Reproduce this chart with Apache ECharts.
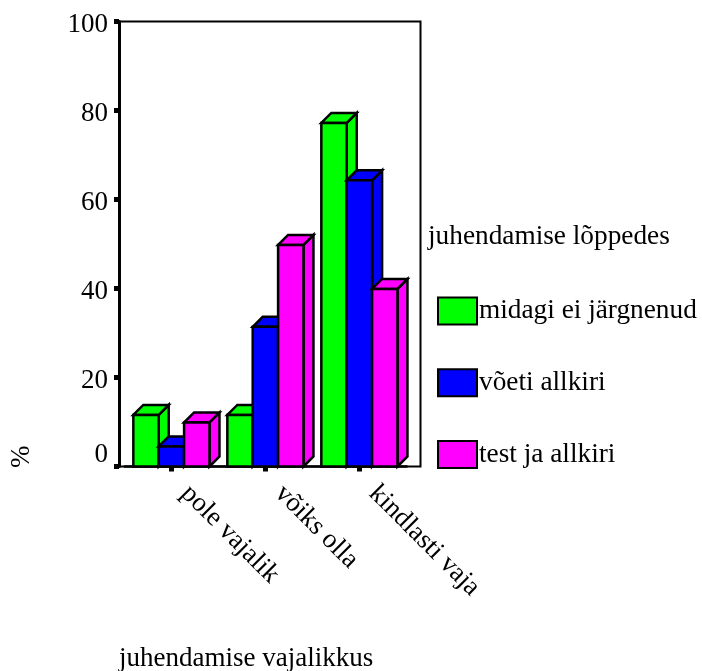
<!DOCTYPE html>
<html><head><meta charset="utf-8">
<style>html,body{margin:0;padding:0;background:#fff}#c{width:702px;height:671px}</style>
<script src="https://cdn.jsdelivr.net/npm/echarts@6/dist/echarts.min.js"></script>
</head><body><div id="c"></div>
<script>
const categories = ['pole vajalik', 'võiks olla', 'kindlasti vaja'];
const seriesNames = ['midagi ei järgnenud', 'võeti allkiri', 'test ja allkiri'];
const midagi = [11.6, 11.6, 77.2];
const voeti = [4.5, 31.4, 64.3];
const test = [9.9, 49.8, 39.9];
const yTicks = [0, 100];
const colors = ['#00ff00', '#0000ff', '#ff00ff'];
const FONT = '"Liberation Serif"';
const SIZE = 27;
const LEGEND_SIZE = 27.3;
const DEPTH = 10;

function renderBar(params, api) {
  const w = api.size([1, 0])[0] * 0.27;
  const base = api.coord([api.value(0), 0]);
  const top = api.coord([api.value(0), api.value(1)]);
  const x0 = base[0] + (params.seriesIndex - 1.5) * w - 0.3;
  const x1 = x0 + w;
  const y0 = base[1];
  const y1 = top[1];
  const style = { fill: colors[params.seriesIndex], stroke: '#000', lineWidth: 2.5, lineJoin: 'miter' };
  return {
    type: 'group',
    children: [
      { type: 'polygon', shape: { points: [[x1, y0], [x1 + DEPTH, y0 - DEPTH], [x1 + DEPTH, y1 - DEPTH], [x1, y1]] }, style },
      { type: 'polygon', shape: { points: [[x0, y1], [x0 + DEPTH, y1 - DEPTH], [x1 + DEPTH, y1 - DEPTH], [x1, y1]] }, style },
      { type: 'rect', shape: { x: x0, y: y1, width: w, height: y0 - y1 }, style }
    ]
  };
}

const makeSeries = (name, vals) => ({
  type: 'custom', name, renderItem: renderBar, clip: false,
  data: vals.map((v, i) => [i, v]),
  encode: { x: 0, y: 1 },
  itemStyle: { color: colors[seriesNames.indexOf(name)], borderColor: '#000', borderWidth: 2.5 }
});

const chart = echarts.init(document.getElementById('c'), null, { renderer: 'canvas' });
chart.setOption({
  animation: false,
  backgroundColor: '#fff',
  textStyle: { fontFamily: FONT },
  grid: { left: 124.7, top: 21.5, width: 282, height: 445, containLabel: false },
  xAxis: {
    type: 'category', data: categories,
    axisLine: { lineStyle: { color: '#000', width: 2.5 } },
    axisTick: { show: true, alignWithLabel: true, length: 5, lineStyle: { color: '#000', width: 5 } },
    axisLabel: { interval: 0, rotate: -45, margin: 9.5, padding: [0, 0, 0, 19], color: '#000', fontFamily: FONT, fontSize: SIZE }
  },
  yAxis: {
    type: 'value', min: yTicks[0], max: yTicks[1], interval: 20, offset: 5.7,
    splitLine: { show: false },
    axisLine: { show: true, lineStyle: { color: '#000', width: 3 } },
    axisTick: { show: true, length: 5, lineStyle: { color: '#000', width: 5 } },
    axisLabel: { margin: 11, verticalAlign: 'top', padding: [-10, 0, -2, 0], verticalAlignMinLabel: 'bottom', color: '#000', fontFamily: FONT, fontSize: SIZE }
  },
  legend: {
    orient: 'vertical', left: 432, top: 291.5, itemWidth: 39, itemHeight: 27, itemGap: 42.7,
    icon: 'rect', selectedMode: false, data: seriesNames,
    textStyle: { color: '#000', fontFamily: FONT, fontSize: LEGEND_SIZE, padding: [0, 0, 0, -3] }
  },
  graphic: [
    { type: 'rect', silent: true, z: -1, shape: { x: 119, y: 21.5, width: 301.5, height: 445 }, style: { fill: 'none', stroke: '#000', lineWidth: 2 } },
    { type: 'text', left: 428, top: 223, style: { text: 'juhendamise lõppedes', font: LEGEND_SIZE + 'px ' + FONT, fill: '#000' } },
    { type: 'text', left: 119, top: 645, style: { text: 'juhendamise vajalikkus', font: SIZE + 'px ' + FONT, fill: '#000' } },
    { type: 'text', x: 21.5, y: 468, rotation: Math.PI / 2, style: { text: '%', font: SIZE + 'px ' + FONT, fill: '#000', align: 'left', verticalAlign: 'middle' } }
  ],
  series: [makeSeries(seriesNames[0], midagi), makeSeries(seriesNames[1], voeti), makeSeries(seriesNames[2], test)]
});
</script></body></html>
